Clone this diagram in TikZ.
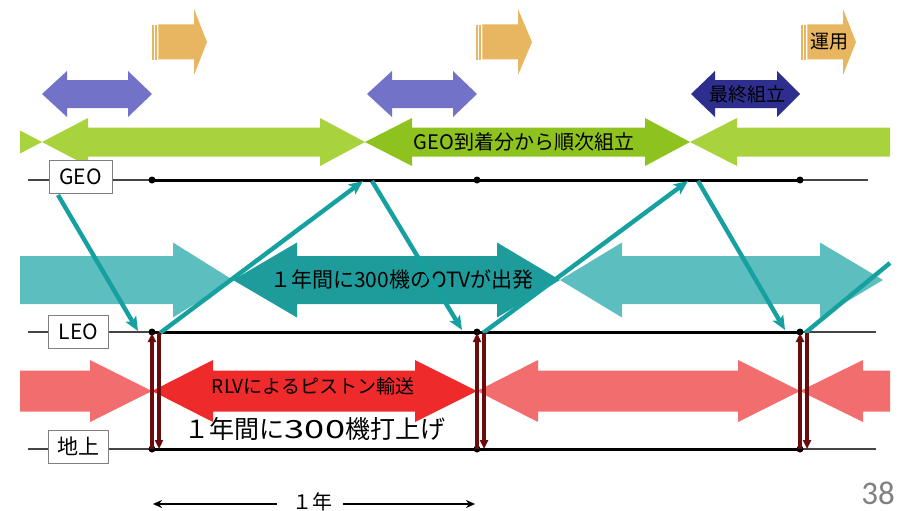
\documentclass[tikz,border=0pt]{standalone}
\usepackage{fontspec}
\setmainfont{Noto Sans CJK JP}
\newfontfamily\numfont{Carlito}
\usetikzlibrary{arrows.meta}
\definecolor{grnL}{HTML}{A9D33C}
\definecolor{grnD}{HTML}{8DC21F}
\definecolor{purL}{HTML}{7272C8}
\definecolor{purD}{HTML}{2E2E8E}
\definecolor{orng}{HTML}{E8B660}
\definecolor{tealL}{HTML}{5CBEBE}
\definecolor{tealD}{HTML}{1E9C9C}
\definecolor{redL}{HTML}{F26E6E}
\definecolor{redD}{HTML}{EE2A2A}
\definecolor{conn}{HTML}{17A0A0}
\definecolor{brn}{HTML}{6A0C0C}
\definecolor{lgray}{HTML}{444444}
% double arrow: color, ltip, lback, rback, rtip, yc, shaft half, head half
\newcommand{\DblArr}[8]{\fill[#1] (#2,#6) -- (#3,#6-#8) -- (#3,#6-#7) -- (#4,#6-#7) -- (#4,#6-#8) -- (#5,#6) -- (#4,#6+#8) -- (#4,#6+#7) -- (#3,#6+#7) -- (#3,#6+#8) -- cycle;}
% right arrow: color, xstart, back, tip, yc, shaft half, head half
\newcommand{\RArr}[7]{\fill[#1] (#2,#5-#6) -- (#3,#5-#6) -- (#3,#5-#7) -- (#4,#5) -- (#3,#5+#7) -- (#3,#5+#6) -- (#2,#5+#6) -- cycle;}
% left arrow: color, tip, back, xend, yc, shaft half, head half
\newcommand{\LArr}[7]{\fill[#1] (#2,#5) -- (#3,#5-#7) -- (#3,#5-#6) -- (#4,#5-#6) -- (#4,#5+#6) -- (#3,#5+#6) -- (#3,#5+#7) -- cycle;}
% striped orange arrow: start, back, tip
\newcommand{\OArr}[3]{\fill[orng] (#1,25) rectangle (#1+1.8,60);
 \fill[orng] (#1+3.2,25) rectangle (#1+5,60);
 \RArr{orng}{#1+6.4}{#2}{#3}{42}{17.5}{33}}
\begin{document}
\begin{tikzpicture}[x=1pt,y=-1pt,
  fs/.style={font=\fontsize{#1}{#1}\selectfont, inner sep=0pt},
  lvlbox/.style={draw=gray, line width=0.9pt, fill=white, minimum width=60pt, minimum height=33pt, inner sep=0pt, font=\fontsize{21}{21}\selectfont},
  connector/.style={draw=conn, line width=4.4pt, -{Stealth[length=14pt,width=12pt,inset=3pt]}},
  updown/.style={draw=brn, line width=3.2pt, -{Triangle[length=9pt,width=8pt]}},
  dot/.style={circle, fill=black, inner sep=0pt, minimum size=7pt},
  dimarrow/.style={draw=black, line width=2pt, -{Stealth[length=9pt,width=8pt]}}]
\useasboundingbox (0,0) rectangle (899,511);

% orange arrows
\OArr{152}{194}{207}
\OArr{476}{518}{532}
\OArr{801}{843}{856}
% purple arrows
\DblArr{purL}{42}{67}{128}{152}{94}{14}{23}
\DblArr{purL}{367}{392}{453}{477}{94}{14}{23}
\DblArr{purD}{691}{715}{777}{800}{94}{14}{23}
% green arrows
\fill[grnL] (20,130.5) -- (42,142) -- (20,153.5) -- cycle;
\DblArr{grnL}{42}{88}{320}{365}{142}{14.5}{24}
\DblArr{grnD}{365}{412}{645}{690}{142}{14.5}{24}
\LArr{grnL}{690}{737}{890}{142}{14.5}{24}
% teal arrows
\RArr{tealL}{20}{173}{233}{280}{24}{37.5}
\DblArr{tealD}{233}{297}{497}{560}{280}{24}{37.5}
\DblArr{tealL}{560}{622}{820}{883}{280}{24}{37.5}
% red arrows
\RArr{redL}{20}{90}{152}{391}{20.5}{31}
\DblArr{redD}{152}{213}{415}{477}{391}{20.5}{31}
\DblArr{redL}{477}{538}{738}{800}{391}{20.5}{31}
\LArr{redL}{800}{863}{890}{391}{20.5}{31}

% arrow labels
\node[fs=19] (unyo) at (829,42) {運用};
\node[fs=19] (saishu) at (747,94) {最終組立};
\node[fs=20] (geokumi) at (524,142) {GEO到着分から順次組立};
\node[fs=21] (otv) at (402,280) {１年間に300機のOTVが出発};
\node[fs=19] (rlv) at (313,386) {RLVによるピストン輸送};
\node[fs=25] (uchiage) at (315,429) {１年間に\scalebox{1.45}[1]{300}機打上げ};

% level lines
\draw[lgray, line width=2.6pt] (28,180) -- (152,180) (800,180) -- (868,180);
\draw[black, line width=3pt] (152,180) -- (800,180);
\draw[lgray, line width=2.6pt] (28,332) -- (152,332) (800,332) -- (876,332);
\draw[black, line width=3pt] (152,332) -- (800,332);
\draw[lgray, line width=2.6pt] (28,449) -- (152,449) (800,449) -- (876,449);
\draw[black, line width=3pt] (152,449) -- (800,449);
\foreach \x/\n in {152/a,477/b,800/c}{
  \node[dot] (geo\n) at (\x,180) {};
  \node[dot] (leo\n) at (\x,332) {};
  \node[dot] (gnd\n) at (\x,449) {};
}
\node[lvlbox, minimum width=63pt] (geo) at (80.5,177) {GEO};
\node[lvlbox] (leo) at (78.5,331.5) {LEO};
\node[lvlbox] (gnd) at (78.5,446.5) {地上};

% OTV connectors
\coordinate (c1s) at (58,195);  \coordinate (c1e) at (138,331);
\coordinate (c2s) at (160,333); \coordinate (c2e) at (363,181);
\coordinate (c3s) at (372,181); \coordinate (c3e) at (462,330);
\coordinate (c4s) at (483,333); \coordinate (c4e) at (688,181);
\coordinate (c5s) at (698,181); \coordinate (c5e) at (785,330);
\coordinate (c6s) at (805,333); \coordinate (c6e) at (890,263);
\draw[connector] (c1s) -- (c1e);
\draw[connector] (c2s) -- (c2e);
\draw[connector] (c3s) -- (c3e);
\draw[connector] (c4s) -- (c4e);
\draw[connector] (c5s) -- (c5e);
\draw[draw=conn, line width=4.4pt] (c6s) -- (c6e);

% RLV up/down arrows
\foreach \x/\n in {152/a,477/b,800/c}{
  \coordinate (up\n s) at (\x,449); \coordinate (up\n e) at (\x,333);
  \coordinate (dn\n s) at (\x+7,333); \coordinate (dn\n e) at (\x+7,449);
  \draw[updown] (up\n s) -- (up\n e);
  \draw[updown] (dn\n s) -- (dn\n e);
}

% one-year dimension
\node[fs=20] (year) at (312,502) {１年};
\coordinate (yl) at (153,504);
\coordinate (yr) at (475,504);
\draw[dimarrow] (277,504) -- (yl);
\draw[dimarrow] (343,504) -- (yr);

% page number
\node[font=\numfont\fontsize{33}{33}\selectfont, text=gray, inner sep=0pt, anchor=base] (pg) at (878,504) {38};
\end{tikzpicture}
\end{document}
